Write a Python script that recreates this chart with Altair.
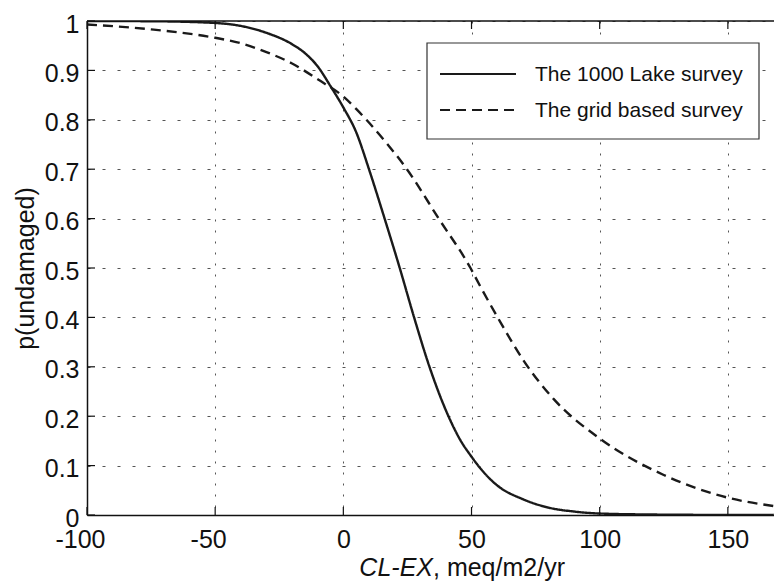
import altair as alt
import pandas as pd

# ---- data ----
series_names = ["The 1000 Lake survey", "The grid based survey"]

lake_x = [-100, -75, -50, -40, -30, -20, -15, -10, -5, 0, 5, 10, 16.1, 22, 27.6, 33.6, 41, 45.6, 50, 55, 60, 70, 80, 90, 100, 120, 145, 168]
lake_p = [1.0, 0.9995, 0.996, 0.99, 0.976, 0.953, 0.935, 0.908, 0.868, 0.825, 0.775, 0.70, 0.60, 0.50, 0.40, 0.30, 0.20, 0.152, 0.118, 0.085, 0.06, 0.032, 0.015, 0.007, 0.003, 0.001, 0.0002, 0.0]

grid_x = [-100, -75, -50, -40, -30, -20, -10, 0, 5, 9, 17, 24.8, 37.2, 49.6, 53.5, 61.3, 70, 82, 100, 125, 150, 168]
grid_p = [0.993, 0.983, 0.966, 0.955, 0.937, 0.914, 0.882, 0.847, 0.822, 0.80, 0.752, 0.70, 0.60, 0.50, 0.462, 0.39, 0.315, 0.235, 0.155, 0.081, 0.035, 0.018]

x_ticks = [-100, -50, 0, 50, 100, 150]
y_ticks = [0, 0.1, 0.2, 0.3, 0.4, 0.5, 0.6, 0.7, 0.8, 0.9, 1]
x_title_italic = "CL-EX"
x_title_rest = ", meq/m2/yr"
y_title = "p(undamaged)"

# ---- layout ----
W, H = 687, 494
XMIN, XMAX = -100, 168
FONT = "Liberation Sans"
INK = "#111111"

df = pd.concat([
    pd.DataFrame({"x": lake_x, "p": lake_p, "series": series_names[0]}),
    pd.DataFrame({"x": grid_x, "p": grid_p, "series": series_names[1]}),
], ignore_index=True)

xscale = alt.Scale(domain=[XMIN, XMAX], nice=False, zero=False)
yscale = alt.Scale(domain=[0, 1], nice=False, zero=False)
dash_scale = alt.Scale(domain=series_names, range=[[1, 0], [10, 6]])

x_axis = alt.Axis(
    values=x_ticks, title=None, ticks=False, grid=True,
    gridDash=[2, 9], gridColor="#555555", gridWidth=1,
    domainColor=INK, domainWidth=1.5,
    labelFont=FONT, labelFontSize=25, labelColor=INK, labelPadding=12,
    labelFlush=False, labelOverlap=False,
    labelExpr="datum.value < 0 ? '-' + format(-datum.value, 'd') : format(datum.value, 'd')",
    labelOffset={"condition": {"test": "datum.value < 0", "value": -7}, "value": 0},
)
y_axis = alt.Axis(
    values=y_ticks, title=y_title, ticks=False, grid=True,
    gridDash=[3, 12], gridColor="#555555", gridWidth=1,
    domainColor=INK, domainWidth=1.5,
    labelFont=FONT, labelFontSize=25, labelColor=INK, labelPadding=8,
    labelFlush=False, labelOverlap=False, labelOffset=3,
    labelExpr="format(datum.value, '.1~f')",
    titleFont=FONT, titleFontSize=25, titleFontWeight="normal", titleColor=INK,
    titlePadding=6,
)

lines = alt.Chart(df).mark_line(
    color="#1a1a1a", strokeWidth=2.4, interpolate="monotone", clip=True
).encode(
    x=alt.X("x:Q", scale=xscale, axis=x_axis),
    y=alt.Y("p:Q", scale=yscale, axis=y_axis),
    strokeDash=alt.StrokeDash("series:N", scale=dash_scale, legend=None),
)

# top frame line (right edge of the reference runs off the picture)
one = pd.DataFrame({"k": [0]})
top_line = alt.Chart(one).mark_rule(color=INK, strokeWidth=1.5).encode(
    x=alt.value(0), x2=alt.value(W), y=alt.value(0)
)

# inward tick marks (MATLAB style)
xt = pd.DataFrame({"x": x_ticks})
yt = pd.DataFrame({"p": y_ticks})
tick_style = dict(color=INK, strokeWidth=1.2)
tb = alt.Chart(xt).mark_rule(**tick_style).encode(x=alt.X("x:Q", scale=xscale), y=alt.value(H), y2=alt.value(H - 8))
tt = alt.Chart(xt).mark_rule(**tick_style).encode(x=alt.X("x:Q", scale=xscale), y=alt.value(0), y2=alt.value(8))
tl = alt.Chart(yt).mark_rule(**tick_style).encode(y=alt.Y("p:Q", scale=yscale), x=alt.value(0), x2=alt.value(8))

# legend box
box = alt.Chart(one).mark_rect(fill="white", stroke="#333333", strokeWidth=1.2).encode(
    x=alt.value(340), x2=alt.value(672), y=alt.value(22), y2=alt.value(118)
)
legend_layers = [box]
row_y = [53, 89]
dashes = [[1, 0], [10, 6]]
for i, name in enumerate(series_names):
    legend_layers.append(
        alt.Chart(one).mark_rule(color="#1a1a1a", strokeWidth=2.2, strokeDash=dashes[i]).encode(
            x=alt.value(353), x2=alt.value(429), y=alt.value(row_y[i])
        )
    )
    legend_layers.append(
        alt.Chart(one).mark_text(
            text=name, align="left", baseline="alphabetic", font=FONT, fontSize=21, color=INK
        ).encode(x=alt.value(448), y=alt.value(row_y[i] + 7))
    )

# x-axis title with italic part
xt1 = alt.Chart(one).mark_text(
    text=x_title_italic, align="right", baseline="alphabetic", font=FONT, fontSize=25,
    fontStyle="italic", color=INK
).encode(x=alt.value(346), y=alt.value(555))
xt2 = alt.Chart(one).mark_text(
    text=x_title_rest, align="left", baseline="alphabetic", font=FONT, fontSize=25, color=INK
).encode(x=alt.value(346), y=alt.value(555))

chart = alt.layer(lines, top_line, tb, tt, tl, *legend_layers, xt1, xt2).properties(
    width=W, height=H,
    autosize=alt.AutoSizeParams(type="none"),
    padding={"left": 79, "top": 13, "right": 0, "bottom": 67},
    background="white",
).configure_view(strokeWidth=0)

chart.save("out.html", embed_options={"renderer": "svg", "actions": False})
